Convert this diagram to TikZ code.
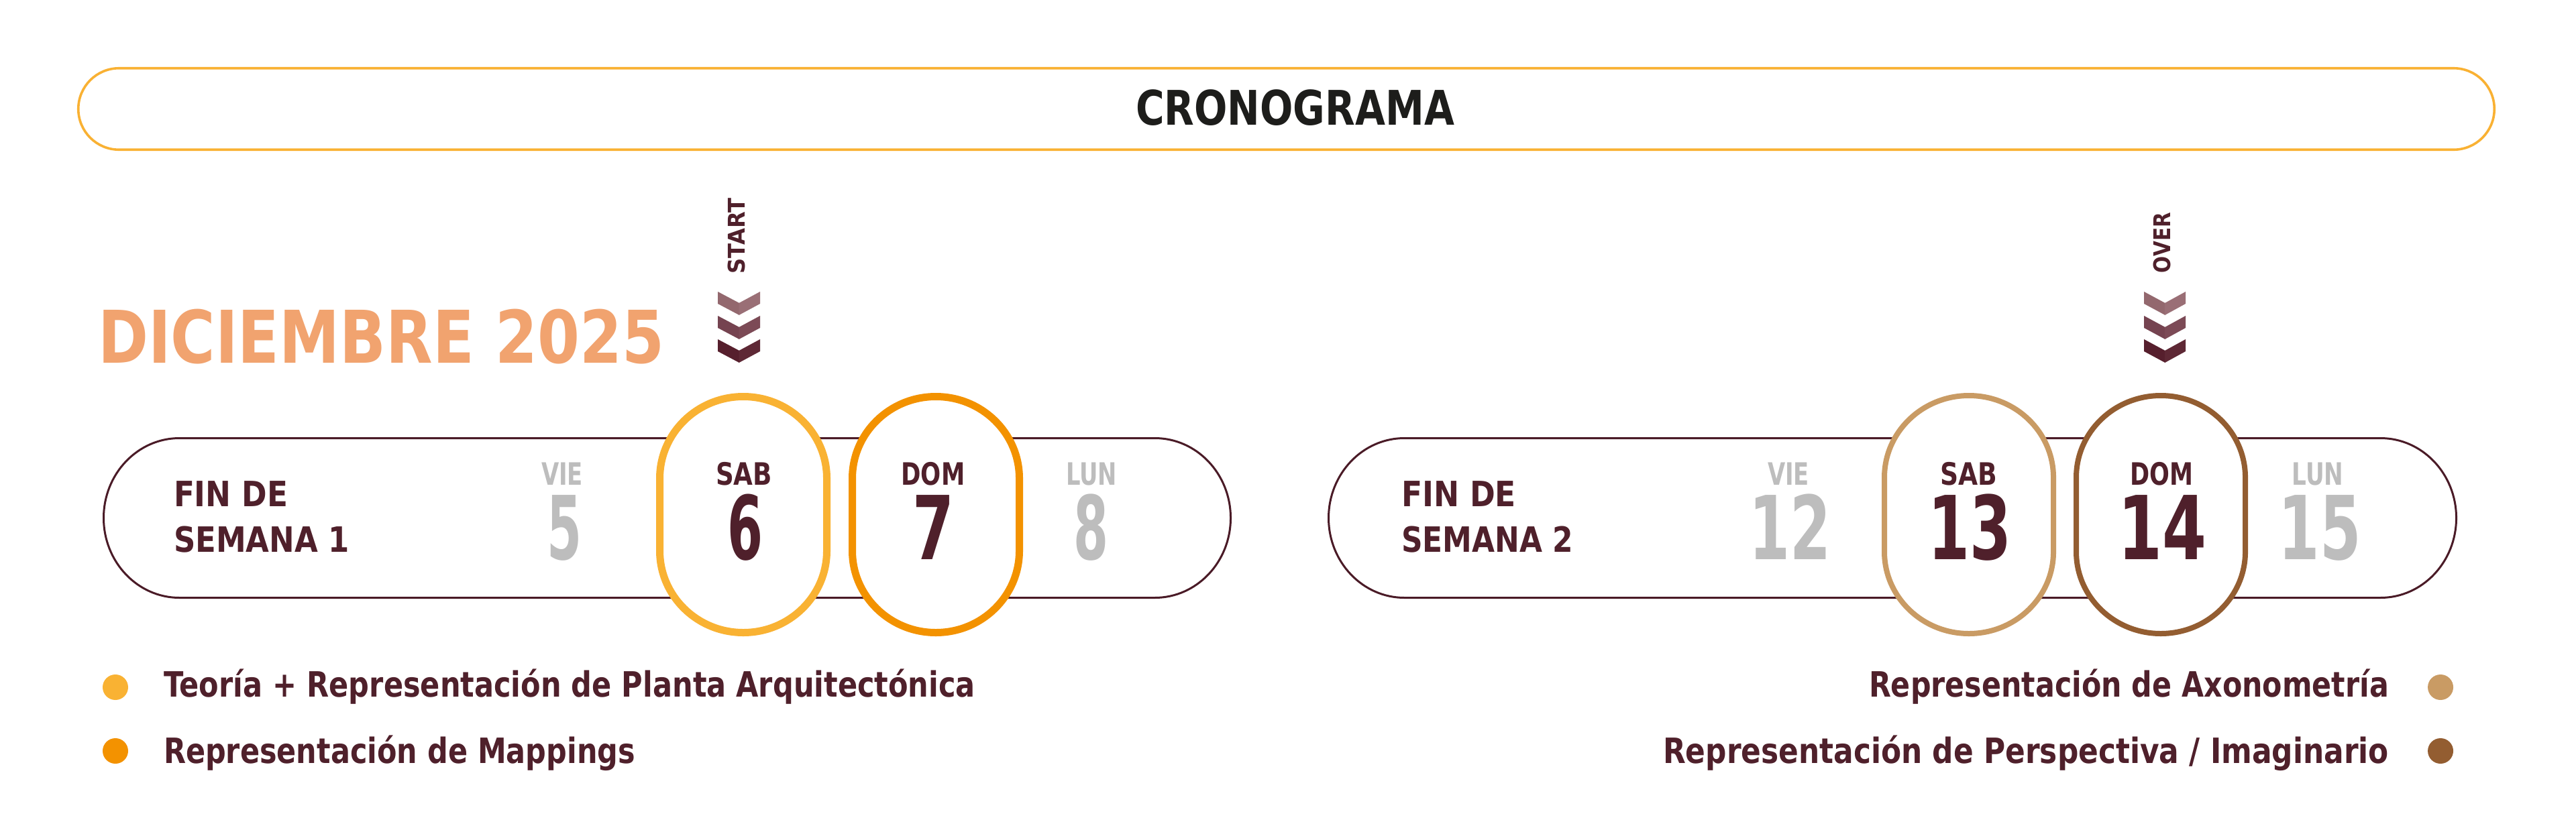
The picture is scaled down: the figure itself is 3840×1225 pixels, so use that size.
\documentclass[tikz,border=0pt]{standalone}
\usepackage{fontspec}
\usepackage{graphicx}
\setmainfont{DejaVu Sans}
\definecolor{maroon}{HTML}{4F202B}
\definecolor{pillline}{HTML}{4A1B27}
\definecolor{titletext}{HTML}{1D1D1B}
\definecolor{titleline}{HTML}{F9B133}
\definecolor{salmon}{HTML}{F1A36F}
\definecolor{lgray}{HTML}{BDBDBD}
\definecolor{ringA}{HTML}{F9B233}
\definecolor{ringB}{HTML}{F39200}
\definecolor{ringC}{HTML}{C99B64}
\definecolor{ringD}{HTML}{935D31}
\definecolor{chevAl}{HTML}{93686E}
\definecolor{chevAr}{HTML}{9A6F76}
\definecolor{chevBl}{HTML}{754350}
\definecolor{chevBr}{HTML}{7C4A56}
\definecolor{chevCl}{HTML}{561F2D}
\definecolor{chevCr}{HTML}{5E2835}
\newsavebox\fitbox
\newlength\fitlen
% #1 font size (pt), #2 target width (px), #3 text
\newcommand\fitw[3]{%
  \sbox\fitbox{\fontsize{#1}{#1}\selectfont\bfseries #3}%
  \setlength\fitlen{\wd\fitbox}%
  \pgfmathsetmacro\fitsf{#2*0.25/\fitlen}%
  \scalebox{\fitsf}[1]{\usebox\fitbox}}
% chevron: L C R T colorLeft colorRight
\newcommand\chev[6]{%
  \fill[#5] (#1,#4) -- (#2+0.6,#4-17) -- (#2+0.6,#4-35) -- (#1,#4-18) -- cycle;
  \fill[#6] (#2,#4-17) -- (#3,#4) -- (#3,#4-18) -- (#2,#4-35) -- cycle;}
\tikzset{
  txt/.style={inner sep=0pt, outer sep=0pt},
  titlepill/.style={draw=titleline, line width=0.9pt},
  weekpill/.style={draw=pillline, line width=0.75pt},
  ringbig/.style={line width=2.75pt, fill=white},
  ringsmall/.style={line width=2pt, fill=white},
  dark/.style={txt, text=maroon},
  grey/.style={txt, text=lgray},
  bullet/.style={circle, inner sep=0pt, minimum size=9.5pt},
}
\begin{document}
\begin{tikzpicture}[x=0.25pt, y=0.25pt]
\useasboundingbox (0,0) rectangle (3840,1225);
\fill[white] (0,0) rectangle (3840,1225);

% title pill
\draw[titlepill] (177.5,1123.25) -- (3657.5,1123.25)
  arc[start angle=90, end angle=-90, x radius=60.75, y radius=60.75]
  -- (177.5,1001.75)
  arc[start angle=270, end angle=90, x radius=60.75, y radius=60.75] -- cycle;
\node[txt, anchor=base, text=titletext] (title) at (1930.5,1039) {\fitw{17.8}{475}{CRONOGRAMA}};

% month
\node[txt, anchor=base west, text=salmon] (month) at (146,684) {\fitw{27.1}{844}{DICIEMBRE 2025}};

% week pills
\draw[weekpill] (267.5,571.5) -- (1721.5,571.5)
  arc[start angle=90, end angle=-90, x radius=113, y radius=119]
  -- (267.5,333.5)
  arc[start angle=270, end angle=90, x radius=113, y radius=119] -- cycle;
\draw[weekpill] (2093.5,571.5) -- (3548.5,571.5)
  arc[start angle=90, end angle=-90, x radius=113, y radius=119]
  -- (2093.5,333.5)
  arc[start angle=270, end angle=90, x radius=113, y radius=119] -- cycle;

% rings week 1
\draw[ringbig, draw=ringA] (983.5,511.5)
  arc[start angle=180, end angle=0, x radius=124.5, y radius=122]
  -- (1232.5,403.5)
  arc[start angle=0, end angle=-180, x radius=124.5, y radius=122] -- cycle;
\draw[ringbig, draw=ringB] (1270.5,511.5)
  arc[start angle=180, end angle=0, x radius=124.5, y radius=122]
  -- (1519.5,403.5)
  arc[start angle=0, end angle=-180, x radius=124.5, y radius=122] -- cycle;
% rings week 2
\draw[ringsmall, draw=ringC] (2809,513)
  arc[start angle=180, end angle=0, x radius=126, y radius=122]
  -- (3061,402)
  arc[start angle=0, end angle=-180, x radius=126, y radius=122] -- cycle;
\draw[ringsmall, draw=ringD] (3095,513)
  arc[start angle=180, end angle=0, x radius=126, y radius=122]
  -- (3347,402)
  arc[start angle=0, end angle=-180, x radius=126, y radius=122] -- cycle;

% week 1 texts
\node[dark, anchor=base west] (fin1) at (259,470) {\fitw{13}{170}{FIN DE}};
\node[dark, anchor=base west] (sem1) at (259,402) {\fitw{13}{262}{SEMANA 1}};
\node[grey, anchor=base] (vie1) at (838,502) {\fitw{11.5}{62}{VIE}};
\node[dark, anchor=base] (sab1) at (1109,502) {\fitw{11.5}{84}{SAB}};
\node[dark, anchor=base] (dom1) at (1391,502) {\fitw{11.5}{95}{DOM}};
\node[grey, anchor=base] (lun1) at (1627,502) {\fitw{11.5}{76}{LUN}};
\node[grey, anchor=base] (n5) at (841,391) {\fitw{32.9}{52}{5}};
\node[dark, anchor=base] (n6) at (1110.5,391) {\fitw{32.9}{53}{6}};
\node[dark, anchor=base] (n7) at (1391,391) {\fitw{32.9}{62}{7}};
\node[grey, anchor=base] (n8) at (1626,391) {\fitw{32.9}{52}{8}};

% week 2 texts
\node[dark, anchor=base west] (fin2) at (2089,470) {\fitw{13}{171}{FIN DE}};
\node[dark, anchor=base west] (sem2) at (2089,402) {\fitw{13}{256}{SEMANA 2}};
\node[grey, anchor=base] (vie2) at (2666,502) {\fitw{11.5}{62}{VIE}};
\node[dark, anchor=base] (sab2) at (2935,502) {\fitw{11.5}{85}{SAB}};
\node[dark, anchor=base] (dom2) at (3222,502) {\fitw{11.5}{94}{DOM}};
\node[grey, anchor=base] (lun2) at (3455,502) {\fitw{11.5}{77}{LUN}};
\node[grey, anchor=base] (n12) at (2668,391) {\fitw{32.9}{122}{12}};
\node[dark, anchor=base] (n13) at (2936,391) {\fitw{32.9}{124}{13}};
\node[dark, anchor=base] (n14) at (3223,391) {\fitw{32.9}{132}{14}};
\node[grey, anchor=base] (n15) at (3458,391) {\fitw{32.9}{123}{15}};

% start / over markers
\node[dark, rotate=90] (start) at (1098,873) {\fitw{8.6}{113}{START}};
\node[dark, rotate=90] (over) at (3223,863) {\fitw{8.6}{90}{OVER}};
\chev{1070}{1101.5}{1133}{790}{chevAl}{chevAr}
\chev{1070}{1101.5}{1133}{754}{chevBl}{chevBr}
\chev{1070}{1101.5}{1133}{719}{chevCl}{chevCr}
\chev{3196}{3227}{3258}{790}{chevAl}{chevAr}
\chev{3196}{3227}{3258}{754}{chevBl}{chevBr}
\chev{3196}{3227}{3258}{719}{chevCl}{chevCr}

% legend
\node[bullet, fill=ringA] (b1) at (172,200) {};
\node[bullet, fill=ringB] (b2) at (172,105) {};
\node[bullet, fill=ringC] (b3) at (3638,200) {};
\node[bullet, fill=ringD] (b4) at (3638,105) {};
\node[dark, anchor=base west] (l1) at (244,186) {\fitw{13}{1210}{Teoría + Representación de Planta Arquitectónica}};
\node[dark, anchor=base west] (l2) at (244,87) {\fitw{13}{703}{Representación de Mappings}};
\node[dark, anchor=base east] (l3) at (3561,186) {\fitw{13}{775}{Representación de Axonometría}};
\node[dark, anchor=base east] (l4) at (3561,87) {\fitw{13}{1082}{Representación de Perspectiva / Imaginario}};
\end{tikzpicture}
\end{document}
